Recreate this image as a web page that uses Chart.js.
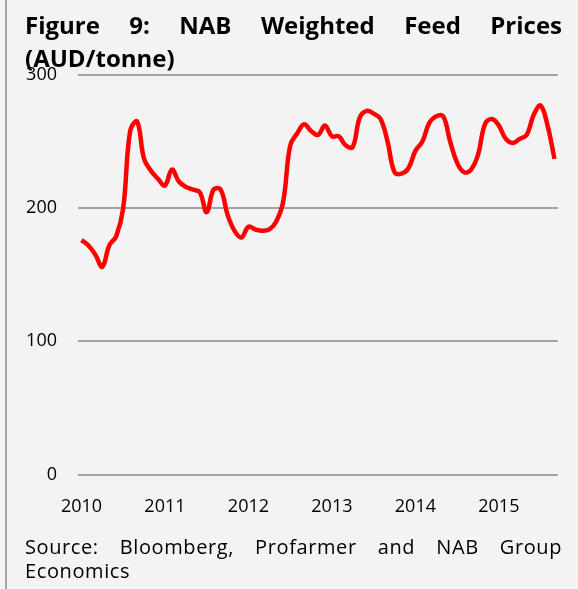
<!DOCTYPE html>
<html lang="en">
<head>
    <meta charset="UTF-8">
    <title>NAB Weighted Feed Prices</title>
    <script src="https://cdn.jsdelivr.net/npm/chart.js"></script>
    <style>
        body { margin: 0; background: #f3f3f3; width: 578px; height: 589px; overflow: hidden; position: relative; font-family: "Open Sans", sans-serif; color: #000; }
        #leftRule { position: absolute; left: 5px; top: 0; width: 2px; height: 589px; background: #a6a6a6; }
        #title { position: absolute; left: 25px; top: 8px; width: 537px; font-size: 24px; font-weight: bold; line-height: 33px; text-align: justify; }
        #source { position: absolute; left: 25px; top: 535px; width: 537px; font-size: 20px; line-height: 24px; letter-spacing: 0.6px; text-align: justify; }
        #chartBox { position: absolute; left: 0; top: 0; }
    </style>
</head>
<body>
    <div id="leftRule"></div>
    <div id="chartBox"><canvas id="feedChart" width="578" height="589"></canvas></div>
    <div id="title">Figure 9: NAB Weighted Feed Prices (AUD/tonne)</div>
    <div id="source">Source: Bloomberg, Profarmer and NAB Group Economics</div>

    <script>
        // monthly, Jan 2010 - Sep 2015
        const months = [
            '2010-01','2010-02','2010-03','2010-04','2010-05','2010-06','2010-07','2010-08','2010-09','2010-10','2010-11','2010-12',
            '2011-01','2011-02','2011-03','2011-04','2011-05','2011-06','2011-07','2011-08','2011-09','2011-10','2011-11','2011-12',
            '2012-01','2012-02','2012-03','2012-04','2012-05','2012-06','2012-07','2012-08','2012-09','2012-10','2012-11','2012-12',
            '2013-01','2013-02','2013-03','2013-04','2013-05','2013-06','2013-07','2013-08','2013-09','2013-10','2013-11','2013-12',
            '2014-01','2014-02','2014-03','2014-04','2014-05','2014-06','2014-07','2014-08','2014-09','2014-10','2014-11','2014-12',
            '2015-01','2015-02','2015-03','2015-04','2015-05','2015-06','2015-07','2015-08','2015-09'
        ];

        // AUD/tonne
        const feedPrices = [
            176, 172, 165, 156, 172, 179, 200, 258, 265, 237, 228, 222,
            217, 229, 220, 216, 214, 212, 197, 214, 214, 195, 183, 178,
            186, 184, 183, 184, 190, 205, 247, 256, 263, 258, 255, 262,
            254, 254, 247, 246, 268, 273, 271, 267, 250, 227, 226, 230,
            243, 250, 264, 269, 269, 250, 234, 227, 229, 240, 263, 267,
            262, 252, 249, 252, 255, 270, 277, 262, 237
        ];

        const yTicks = [0, 100, 200, 300];

        const ctx = document.getElementById('feedChart').getContext('2d');
        new Chart(ctx, {
            type: 'line',
            data: {
                labels: months,
                datasets: [{
                    label: 'NAB Weighted Feed Prices',
                    data: feedPrices,
                    borderColor: '#ff0000',
                    borderWidth: 4.5,
                    tension: 0.4,
                    pointRadius: 0,
                    fill: false,
                }],
            },
            options: {
                responsive: false,
                animation: false,
                devicePixelRatio: 1,
                layout: { padding: { top: 75, right: 20, bottom: 54.5, left: 0 } },
                plugins: { legend: { display: false }, tooltip: { enabled: false } },
                scales: {
                    x: {
                        type: 'category',
                        offset: true,
                        grid: { display: false, drawTicks: false },
                        border: { display: false },
                        afterFit: (scale) => { scale.height = 60; },
                        ticks: {
                            autoSkip: false,
                            maxRotation: 0,
                            padding: 22,
                            color: '#000',
                            font: { family: 'Open Sans', size: 18 },
                            callback: function (value, index) {
                                const m = months[index];
                                return m.endsWith('-01') ? m.slice(0, 4) : '';
                            },
                        },
                    },
                    y: {
                        min: yTicks[0],
                        max: yTicks[yTicks.length - 1],
                        afterFit: (scale) => { scale.width = 78; },
                        afterBuildTicks: (scale) => { scale.ticks = yTicks.map(v => ({ value: v })); },
                        grid: { color: '#a3a3a3', lineWidth: 2, drawTicks: false },
                        border: { display: false },
                        ticks: {
                            padding: 21,
                            color: '#000',
                            font: { family: 'Open Sans', size: 18 },
                        },
                    },
                },
            },
        });
    </script>
</body>
</html>
